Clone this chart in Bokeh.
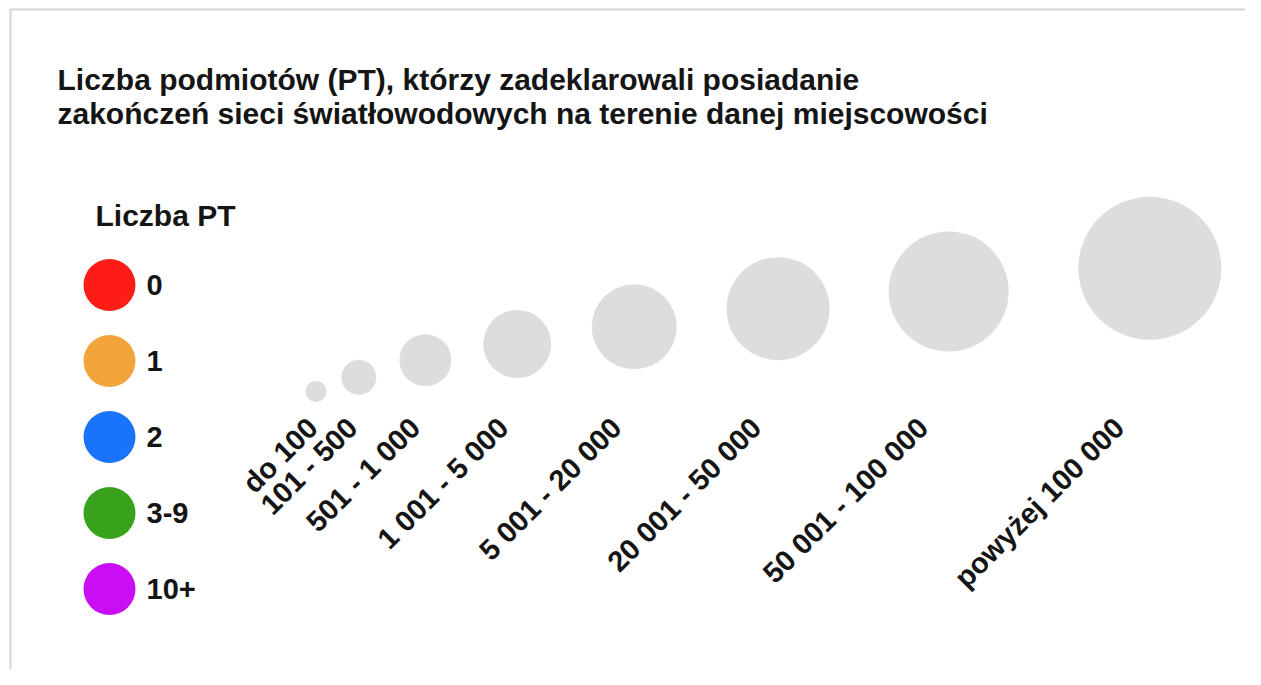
from math import pi
from bokeh.plotting import figure
from bokeh.models import Range1d, BoxAnnotation, ColumnDataSource
from bokeh.core.properties import value
from bokeh.embed import file_html
from bokeh.resources import INLINE

# ---------------- data ----------------
title_lines = [
    "Liczba podmiotów (PT), którzy zadeklarowali posiadanie",
    "zakończeń sieci światłowodowych na terenie danej miejscowości",
]
legend_title = "Liczba PT"
pt_labels = ["0", "1", "2", "3-9", "10+"]
pt_colors = ["#fb1d16", "#f2a43a", "#1a74fb", "#38a21c", "#c90ef5"]

size_labels = ["do 100", "101 - 500", "501 - 1 000", "1 001 - 5 000",
               "5 001 - 20 000", "20 001 - 50 000", "50 001 - 100 000",
               "powyżej 100 000"]
size_radius = [10.5, 17.5, 26, 34, 42.5, 51.5, 60, 71.5]

# ---------------- layout ----------------
W, H = 1245, 669
FONT = "Liberation Sans"
TXT = "#151515"

p = figure(width=W, height=H, x_range=Range1d(0, W), y_range=Range1d(H, 0),
           output_backend="svg", toolbar_location=None, min_border=0,
           x_axis_location=None, y_axis_location=None)
p.grid.visible = False
p.outline_line_color = None
p.background_fill_color = "white"

# frame (top and left edges visible, others outside the view)
p.add_layout(BoxAnnotation(left=10, right=W + 20, top=9, bottom=H + 20,
                           fill_alpha=0, line_color="#6f6f6f", line_width=2))

# title
for i, line in enumerate(title_lines):
    p.text(x=[57], y=[79 + 34 * i], text=[line], text_font=value(FONT),
           text_font_style="bold", text_font_size="30px", text_color=TXT,
           text_baseline="middle", text_align="left")

# legend
p.text(x=[95], y=[215], text=[legend_title], text_font=value(FONT),
       text_font_style="bold", text_font_size="30px", text_color=TXT,
       text_baseline="middle", text_align="left")
ly = [284.5 + 76 * i for i in range(len(pt_labels))]
leg = ColumnDataSource(dict(x=[109] * len(pt_labels), y=ly, c=pt_colors,
                            tx=[146] * len(pt_labels), t=pt_labels))
p.scatter(x="x", y="y", size=52, fill_color="c", line_color=None, source=leg)
p.text(x="tx", y="y", text="t", source=leg, text_font=value(FONT),
       text_font_style="bold", text_font_size="29px", text_color=TXT,
       text_baseline="middle", text_align="left")

# bubbles
cx = [315.5]
for i in range(1, len(size_radius)):
    cx.append(cx[-1] + 1.53 * (size_radius[i - 1] + size_radius[i]))
cy = [412.2 - 2.02 * r for r in size_radius]
lx = [x - 0.45 * r - 10 for x, r in zip(cx, size_radius)]
bub = ColumnDataSource(dict(x=cx, y=cy, d=[2 * r for r in size_radius],
                            lx=lx, ly=[411] * len(cx), t=size_labels))
p.scatter(x="x", y="y", size="d", fill_color="#dddddd", line_color=None,
          source=bub)
p.text(x="lx", y="ly", text="t", source=bub, angle=pi / 4,
       text_font=value(FONT), text_font_style="bold", text_font_size="29px",
       text_color=TXT, text_baseline="top", text_align="right")

open("out.html", "w").write(file_html(p, INLINE))
